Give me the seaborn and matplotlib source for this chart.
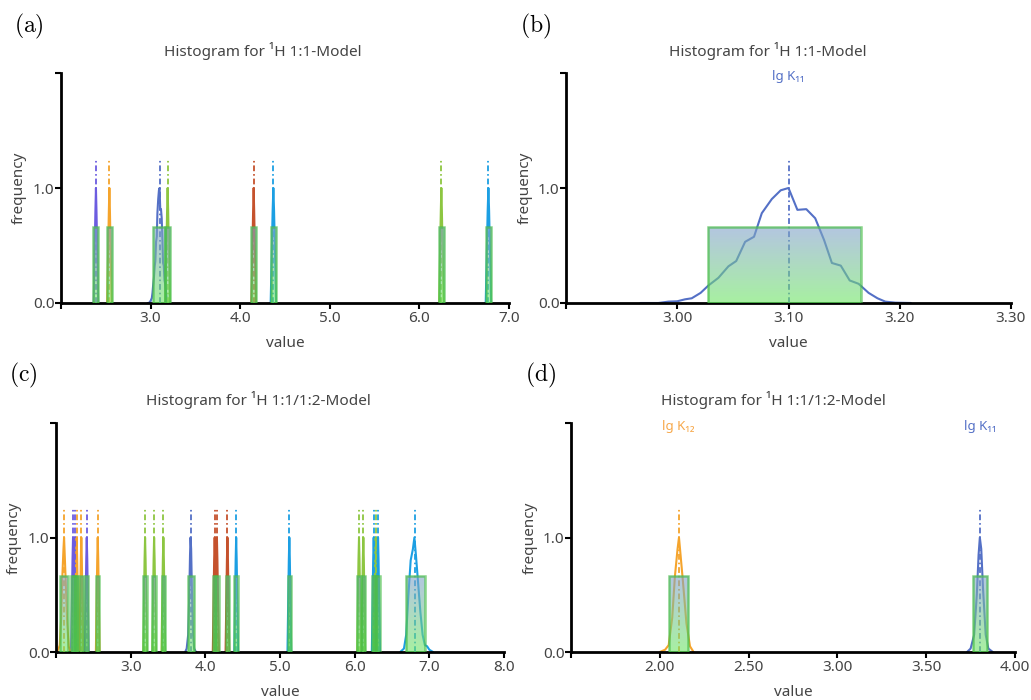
import numpy as np
import matplotlib
matplotlib.use("Agg")
import matplotlib.pyplot as plt
import seaborn as sns
from matplotlib.colors import LinearSegmentedColormap

# ------------------------------------------------------------------ data
PURPLE, ORANGE, BLUE = "#6c5ce0", "#f5a42c", "#5470c6"
GREEN, RED, CYAN = "#8dc641", "#c5522d", "#1c9fe3"

# shared profile of the very narrow parameter spikes (normalised frequency)
spike_y = [0.0, 0.8, 1.0, 0.8, 0.0]

# ---- 1:1 model, lg K11 (panels a and b)
k11_11_x = [2.967, 2.983, 2.992, 3.000, 3.007, 3.013, 3.021, 3.028, 3.037,
            3.046, 3.053, 3.061, 3.069, 3.076, 3.085, 3.093, 3.100, 3.108,
            3.116, 3.124, 3.132, 3.139, 3.147, 3.155, 3.163, 3.172, 3.180,
            3.187, 3.196, 3.210]
k11_11_y = [0.0, 0.0, 0.012, 0.015, 0.032, 0.041, 0.088, 0.152, 0.219,
            0.319, 0.365, 0.532, 0.576, 0.781, 0.904, 0.980, 1.0, 0.810,
            0.816, 0.737, 0.547, 0.348, 0.325, 0.196, 0.167, 0.088, 0.041,
            0.012, 0.003, 0.0]
k11_11_value = 3.10
k11_11_bar_lo, k11_11_bar_hi = 3.028, 3.165

# ---- panel a: remaining parameters of the 1:1 model
a_centers = [2.39, 2.54, 3.19, 4.15, 4.37, 6.245, 6.77]
a_colors = [PURPLE, ORANGE, GREEN, RED, CYAN, GREEN, CYAN]
a_spike_x = [[2.365, 2.384, 2.39, 2.396, 2.415],
             [2.515, 2.534, 2.54, 2.546, 2.565],
             [3.165, 3.184, 3.19, 3.196, 3.215],
             [4.125, 4.144, 4.15, 4.156, 4.175],
             [4.34, 4.362, 4.37, 4.378, 4.40],
             [6.22, 6.239, 6.245, 6.251, 6.27],
             [6.74, 6.762, 6.77, 6.778, 6.80]]
a_bar_lo = [2.362, 2.512, 3.165, 4.122, 4.342, 6.217, 6.742]
a_bar_hi = [2.418, 2.568, 3.222, 4.178, 4.398, 6.273, 6.798]

# ---- 1:1/1:2 model, lg K12 and lg K11 (panels c and d)
k12_x = [2.00, 2.03, 2.05, 2.07, 2.085, 2.10, 2.108, 2.115, 2.13, 2.15, 2.17, 2.19]
k12_y = [0.0, 0.02, 0.06, 0.30, 0.66, 0.90, 1.0, 0.88, 0.62, 0.25, 0.05, 0.0]
k12_value = 2.107
k12_bar_lo, k12_bar_hi = 2.052, 2.159

k11_12_x = [3.73, 3.75, 3.77, 3.785, 3.795, 3.802, 3.81, 3.82, 3.835, 3.85, 3.875]
k11_12_y = [0.0, 0.03, 0.15, 0.50, 0.85, 1.0, 0.90, 0.55, 0.15, 0.03, 0.0]
k11_12_value = 3.802
k11_12_bar_lo, k11_12_bar_hi = 3.762, 3.845

# broad cyan parameter of panel c
c_wide_x = [6.61, 6.66, 6.69, 6.72, 6.75, 6.78, 6.80, 6.82, 6.85, 6.88, 6.91,
            6.94, 6.97, 7.00, 7.05]
c_wide_y = [0.0, 0.03, 0.15, 0.50, 0.80, 0.90, 1.0, 0.85, 0.60, 0.35, 0.15,
            0.06, 0.05, 0.02, 0.0]
c_wide_value = 6.805
c_wide_bar_lo, c_wide_bar_hi = 6.683, 6.937

# ---- panel c: remaining narrow parameters
c_centers = [2.228, 2.257, 2.277, 2.339, 2.412, 2.559, 3.193, 3.314, 3.438,
             4.125, 4.155, 4.296, 4.413, 5.125, 6.058, 6.116, 6.255, 6.282, 6.313]
c_colors = [PURPLE, PURPLE, ORANGE, ORANGE, PURPLE, ORANGE, GREEN, GREEN, GREEN,
            RED, RED, RED, CYAN, CYAN, GREEN, GREEN, CYAN, GREEN, CYAN]
c_spike_x = [[2.203, 2.221, 2.228, 2.235, 2.253],
             [2.232, 2.25, 2.257, 2.264, 2.282],
             [2.252, 2.27, 2.277, 2.284, 2.302],
             [2.314, 2.332, 2.339, 2.346, 2.364],
             [2.387, 2.405, 2.412, 2.419, 2.437],
             [2.534, 2.552, 2.559, 2.566, 2.584],
             [3.168, 3.186, 3.193, 3.2, 3.218],
             [3.289, 3.307, 3.314, 3.321, 3.339],
             [3.413, 3.431, 3.438, 3.445, 3.463],
             [4.10, 4.118, 4.125, 4.132, 4.15],
             [4.13, 4.148, 4.155, 4.162, 4.18],
             [4.271, 4.289, 4.296, 4.303, 4.321],
             [4.388, 4.406, 4.413, 4.42, 4.438],
             [5.10, 5.118, 5.125, 5.132, 5.15],
             [6.033, 6.051, 6.058, 6.065, 6.083],
             [6.091, 6.109, 6.116, 6.123, 6.141],
             [6.23, 6.248, 6.255, 6.262, 6.28],
             [6.257, 6.275, 6.282, 6.289, 6.307],
             [6.288, 6.306, 6.313, 6.32, 6.338]]
c_bar_lo = [2.205, 2.234, 2.254, 2.316, 2.389, 2.536, 3.17, 3.291, 3.415,
            4.102, 4.132, 4.273, 4.39, 5.102, 6.035, 6.093, 6.232, 6.259, 6.29]
c_bar_hi = [2.251, 2.28, 2.30, 2.362, 2.435, 2.582, 3.216, 3.337, 3.461,
            4.148, 4.178, 4.319, 4.436, 5.148, 6.081, 6.139, 6.278, 6.305, 6.336]

bar_height = 0.66
marker_top = 1.25

titles = ["Histogram for \u00b9H 1:1-Model", "Histogram for \u00b9H 1:1-Model",
          "Histogram for \u00b9H 1:1/1:2-Model", "Histogram for \u00b9H 1:1/1:2-Model"]
panel_tags = ["(a)", "(b)", "(c)", "(d)"]
xticks = [[2, 3, 4, 5, 6, 7], [2.9, 3.0, 3.1, 3.2, 3.3],
          [2, 3, 4, 5, 6, 7, 8], [1.5, 2.0, 2.5, 3.0, 3.5, 4.0]]
xticklabels = [["", "3.0", "4.0", "5.0", "6.0", "7.0"],
               ["", "3.00", "3.10", "3.20", "3.30"],
               ["", "3.0", "4.0", "5.0", "6.0", "7.0", "8.0"],
               ["", "2.00", "2.50", "3.00", "3.50", "4.00"]]
yticks = [0, 1, 2]
yticklabels = ["0.0", "1.0", ""]

# ------------------------------------------------------------------ style
sns.set_theme(style="ticks")
plt.rcParams["font.family"] = ["Noto Sans", "DejaVu Sans"]
plt.rcParams["mathtext.fontset"] = "cm"
TXT = "#444444"

W, H = 1031, 700
fig = plt.figure(figsize=(W / 100, H / 100), dpi=100)


def ax_at(l, r, t, b):
    return fig.add_axes([l / W, 1 - b / H, (r - l) / W, (b - t) / H])


axes = [ax_at(61, 509, 73, 303), ax_at(566, 1011, 73, 303),
        ax_at(56, 504, 423, 652), ax_at(571, 1015, 423, 652)]

grad = LinearSegmentedColormap.from_list("barg", [(0.43, 0.90, 0.39), (0.51, 0.63, 0.80)])
EDGE = (0.28, 0.74, 0.28, 0.65)


def curve(ax, x, y, color):
    sns.lineplot(x=x, y=y, ax=ax, color=color, linewidth=1.5, estimator=None,
                 sort=False, zorder=2, legend=False)


def markers(ax, xs, colors):
    ax.vlines(xs, 0, marker_top, colors=colors, linewidth=1.3,
              linestyles=[(0, (3.2, 1.6, 0.9, 1.6))], zorder=3)


def bars(ax, lo, hi):
    lo = np.asarray(lo, float)
    hi = np.asarray(hi, float)
    rects = ax.bar(lo, [bar_height] * len(lo), width=hi - lo, align="edge",
                   facecolor="none", edgecolor=EDGE, linewidth=1.8, zorder=4)
    for r in rects:
        x0, w = r.get_x(), r.get_width()
        im = ax.imshow(np.linspace(0, 1, 64).reshape(-1, 1), cmap=grad, origin="lower",
                       extent=(x0, x0 + w, 0, bar_height), aspect="auto", alpha=0.6,
                       interpolation="bilinear", zorder=3.9)
        im.set_clip_path(r)


# panel a
ax = axes[0]
for xs, c in zip(a_spike_x, a_colors):
    curve(ax, xs, spike_y, c)
curve(ax, k11_11_x, k11_11_y, BLUE)
markers(ax, a_centers + [k11_11_value], a_colors + [BLUE])
bars(ax, a_bar_lo + [k11_11_bar_lo], a_bar_hi + [k11_11_bar_hi])

# panel b
ax = axes[1]
curve(ax, k11_11_x, k11_11_y, BLUE)
markers(ax, [k11_11_value], [BLUE])
bars(ax, [k11_11_bar_lo], [k11_11_bar_hi])
ax.text(k11_11_value, 1.97, "lg K\u2081\u2081", color=BLUE, fontsize=9.5,
        ha="center", va="center")

# panel c
ax = axes[2]
for xs, c in zip(c_spike_x, c_colors):
    curve(ax, xs, spike_y, c)
curve(ax, k12_x, k12_y, ORANGE)
curve(ax, k11_12_x, k11_12_y, BLUE)
curve(ax, c_wide_x, c_wide_y, CYAN)
markers(ax, c_centers + [k12_value, k11_12_value, c_wide_value],
        c_colors + [ORANGE, BLUE, CYAN])
bars(ax, c_bar_lo + [k12_bar_lo, k11_12_bar_lo, c_wide_bar_lo],
     c_bar_hi + [k12_bar_hi, k11_12_bar_hi, c_wide_bar_hi])

# panel d
ax = axes[3]
curve(ax, k12_x, k12_y, ORANGE)
curve(ax, k11_12_x, k11_12_y, BLUE)
markers(ax, [k12_value, k11_12_value], [ORANGE, BLUE])
bars(ax, [k12_bar_lo, k11_12_bar_lo], [k12_bar_hi, k11_12_bar_hi])
ax.text(k12_value, 1.97, "lg K\u2081\u2082", color="#f7a84a", fontsize=9.5,
        ha="center", va="center")
ax.text(k11_12_value, 1.97, "lg K\u2081\u2081", color=BLUE, fontsize=9.5,
        ha="center", va="center")

title_pos = [(263, 51), (768, 51), (258, 400), (773, 400)]
tag_pos = [(14, 26), (520, 26), (9, 375), (525, 375)]
for i, ax in enumerate(axes):
    ax.set_xlim(xticks[i][0], xticks[i][-1])
    ax.set_ylim(0, 2)
    ax.set_xticks(xticks[i])
    ax.set_xticklabels(xticklabels[i])
    ax.set_yticks(yticks)
    ax.set_yticklabels(yticklabels)
    ax.set_xlabel("")
    ax.set_ylabel("")
    sns.despine(ax=ax)
    for s in ("left", "bottom"):
        ax.spines[s].set_linewidth(2.0)
        ax.spines[s].set_color("black")
    ax.tick_params(axis="both", direction="out", length=4, width=1.5, color="black",
                   labelcolor=TXT, labelsize=11)
    ax.tick_params(axis="y", pad=0.5)
    ax.tick_params(axis="x", pad=2)
    ax.set_facecolor("none")
    ax.text(-0.092, 0.5, "frequency", rotation=90, ha="center", va="center",
            transform=ax.transAxes, color=TXT, fontsize=11)
    ax.text(0.5, -0.176, "value", ha="center", va="center",
            transform=ax.transAxes, color=TXT, fontsize=11)
    tx, ty = title_pos[i]
    fig.text(tx / W, 1 - ty / H, titles[i], ha="center", va="center",
             color=TXT, fontsize=11)
    px, py = tag_pos[i]
    fig.text(px / W, 1 - py / H, r"$\mathrm{%s}$" % panel_tags[i], ha="left",
             va="center", color="black", fontsize=17)

fig.savefig("out.png", dpi=100)
